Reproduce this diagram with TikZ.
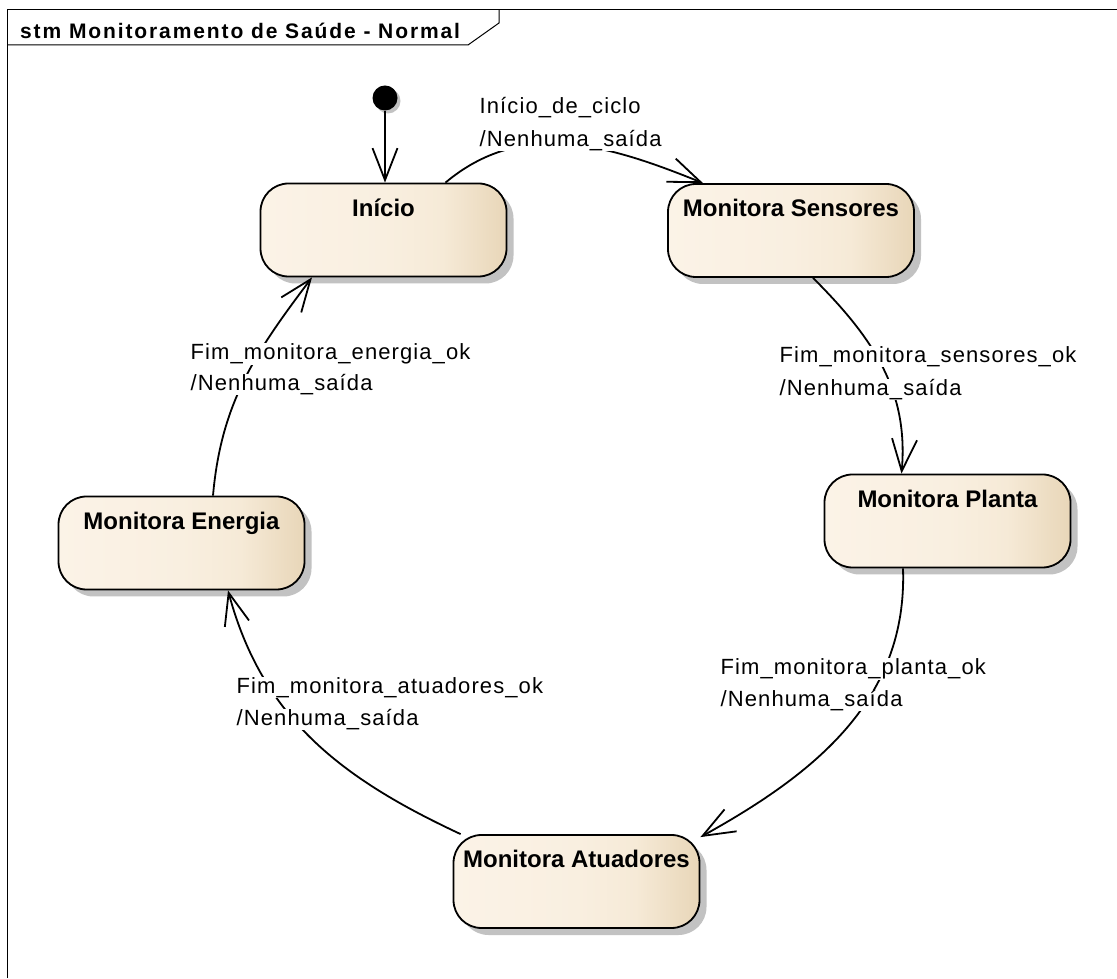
\documentclass[tikz,border=0pt]{standalone}
\usepackage{fontspec}
\setmainfont{Liberation Sans}
\newfontfamily\lblfamily[LetterSpace=5]{Liberation Sans}
\newfontfamily\ttlfamily[LetterSpace=9]{Liberation Sans}
\usetikzlibrary{arrows.meta,shadows,calc}

\definecolor{stateA}{HTML}{FBF3E7}
\definecolor{stateB}{HTML}{F9EFE0}
\definecolor{stateC}{HTML}{F6EAD7}
\definecolor{stateD}{HTML}{E8D6B8}
\definecolor{shadowgray}{HTML}{C2C2C2}

% horizontal fill of the state boxes: light cream, darker tan at the right edge
\pgfdeclarehorizontalshading{statefill}{100bp}{%
  color(0bp)=(stateA); color(25bp)=(stateA); color(50bp)=(stateB);
  color(62bp)=(stateC); color(75bp)=(stateD); color(100bp)=(stateD)}

\tikzset{
  frameline/.style={draw=black, line width=1pt},
  state/.style={draw=black, line width=1.8pt, rounded corners=28pt,
    minimum width=246pt, minimum height=93pt, inner sep=0pt,
    shading=statefill,
    drop shadow={shadow xshift=7pt, shadow yshift=-7pt, fill=shadowgray, opacity=1}},
  statetext/.style={anchor=base, inner sep=0pt,
    font=\bfseries\fontsize{24}{28}\selectfont},
  initstate/.style={circle, fill=black, minimum size=25pt, inner sep=0pt,
    drop shadow={shadow xshift=3pt, shadow yshift=-3pt, fill=shadowgray, opacity=1}},
  trans/.style={draw=black, line width=1.8pt,
    -{Straight Barb[length=32pt, width=25pt, line width=1.8pt]}},
  guard/.style={anchor=base west, fill=white, inner sep=0.5pt,
    font=\lblfamily\fontsize{22}{25}\selectfont},
}

\begin{document}
\begin{tikzpicture}[x=1pt, y=1pt]
  \useasboundingbox (0,0) rectangle (1117,978);

  % diagram frame with its name tab
  \draw[frameline] (7,0) -- (7,968) -- (1120,968);
  \draw[frameline] (7,933) -- (468,933) -- (499,955) -- (499,968);
  \node[anchor=base west, inner sep=0pt,
        font=\ttlfamily\bfseries\fontsize{21}{24}\selectfont]
        (title) at (20,939) {stm Monitoramento de Saúde - Normal};

  % states
  \node[initstate] (init) at (385,880) {};
  \node[state] (ini) at (383.5,748) {};
  \node[state] (sen) at (791,747.5) {};
  \node[state] (pla) at (947.5,457) {};
  \node[state] (ene) at (181.5,435) {};
  \node[state] (atu) at (576.5,96.5) {};

  \node[statetext] (ini-t) at ($(ini.north)+(0,-33.5)$) {Início};
  \node[statetext] (sen-t) at ($(sen.north)+(0,-33.5)$) {Monitora Sensores};
  \node[statetext] (pla-t) at ($(pla.north)+(0,-33.5)$) {Monitora Planta};
  \node[statetext] (ene-t) at ($(ene.north)+(0,-33.5)$) {Monitora Energia};
  \node[statetext] (atu-t) at ($(atu.north)+(0,-33.5)$) {Monitora Atuadores};

  % transitions
  \draw[trans] (init.south) -- (init.south |- ini.north);
  \draw[trans] ($(ini.north)+(62,0)$) to[out=40, in=158] ($(sen.north)+(-88,0)$);
  \draw[trans] ($(sen.south)+(22,0)$) to[out=-45, in=85] ($(pla.north)+(-46,0)$);
  \draw[trans] ($(pla.south)+(-44.5,0)$) to[out=-88, in=29] ($(atu.north east)+(0,-3)$);
  \draw[trans] ($(atu.north west)+(8,0)$) to[out=155, in=-75] ($(ene.south)+(46.5,0)$);
  \draw[trans] ($(ene.north)+(31.5,0)$) to[out=85, in=-127] ($(ini.south)+(-71.5,0)$);

  % transition labels
  \node[guard] (g1a) at (479,864.5) {Início\_de\_ciclo};
  \node[guard] (g1b) at (479,831.5) {/Nenhuma\_saída};
  \node[guard] (g2a) at (779,615.5) {Fim\_monitora\_sensores\_ok};
  \node[guard] (g2b) at (779,582.5) {/Nenhuma\_saída};
  \node[guard] (g3a) at (720,303.5) {Fim\_monitora\_planta\_ok};
  \node[guard] (g3b) at (720,271.5) {/Nenhuma\_saída};
  \node[guard] (g4a) at (236,284.5) {Fim\_monitora\_atuadores\_ok};
  \node[guard] (g4b) at (236,252.5) {/Nenhuma\_saída};
  \node[guard] (g5a) at (190,618.5) {Fim\_monitora\_energia\_ok};
  \node[guard] (g5b) at (190,587.5) {/Nenhuma\_saída};
\end{tikzpicture}
\end{document}
